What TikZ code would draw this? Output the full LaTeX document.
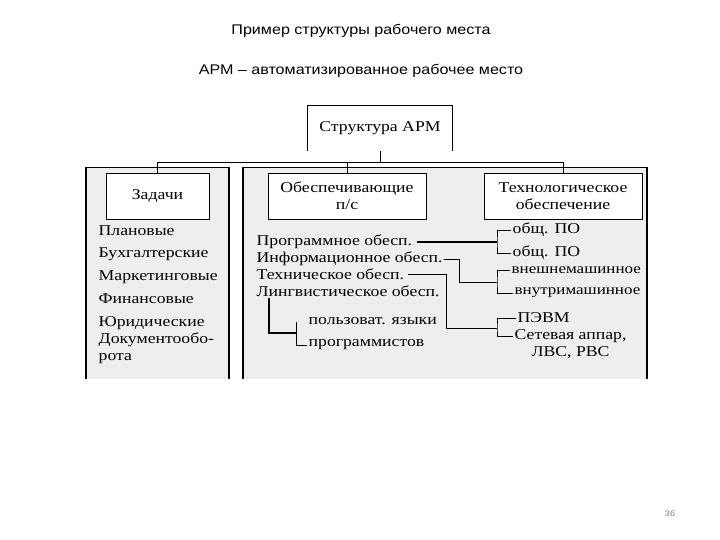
\documentclass[tikz,border=0pt]{standalone}
\usepackage{fontspec}
\setmainfont[FakeStretch=1.18]{Liberation Serif}
\newfontfamily\titlefont[FakeStretch=1.15]{Liberation Sans}
\usetikzlibrary{positioning}

\tikzset{
  box/.style={draw, fill=white, line width=0.9pt, align=center, font=\fontsize{15}{17}\selectfont},
  panel/.style={fill=gray!13},
  item/.style={anchor=west, inner xsep=1.5pt, inner ysep=0pt, font=\fontsize{15}{17}\selectfont},
  narrowitem/.style={item, font=\fontsize{14.4}{17}\selectfont},
  heading/.style={font=\titlefont\fontsize{14}{16}\selectfont},
  link/.style={line width=0.8pt},
  boldlink/.style={line width=1.8pt},
}

\begin{document}
\begin{tikzpicture}[x=1pt,y=-1pt]
    \useasboundingbox (0,0) rectangle (720,540);
    % titles
    \node[heading] (title) at (361,31) {Пример структуры рабочего места};
    \node[heading] (subtitle) at (361,71) {АРМ – автоматизированное рабочее место};

    % gray panels
    \fill[panel] (86,167) rectangle (229,379);
    \fill[panel] (243,167) rectangle (647,379);
    \draw[line width=0.5pt] (86,167) -- (229,167) (243,167) -- (647,167);
    \draw[line width=1.6pt] (86,167) -- (86,379) (229,167) -- (229,379);
    \draw[line width=1.6pt] (243,167) -- (243,379) (647,167) -- (647,379);

    % top box (open at the bottom)
    \node[font=\fontsize{15}{17}\selectfont, minimum width=145, minimum height=45] (apm) at (380,128) {Структура АРМ};
    \draw[line width=0.9pt] (apm.south west) -- (apm.north west) -- (apm.north east) -- (apm.south east);

    % second level
    \node[box, minimum width=103, minimum height=46] (tasks) at (157.5,196) {Задачи};
    \node[box, minimum width=158, minimum height=46] (supp) at (347,196) {Обеспечивающие\\п/с};
    \node[box, minimum width=158, minimum height=46] (tech) at (563,196) {Технологическое\\обеспечение};

    \draw[link] (apm.south) -- ++(0,12) coordinate (bus);
    \draw[link] (tasks.north) |- (bus) -| (tech.north);
    \draw[link] (supp.north) -- (supp.north |- bus);

    % tasks list
    \node[item] (plan) at (97,231) {Плановые};
    \node[item] (buh) at (97,254) {Бухгалтерские};
    \node[item] (market) at (97,277) {Маркетинговые};
    \node[item] (fin) at (97,299) {Финансовые};
    \node[item, align=left] (jur) at (97,340) {Юридические\\Документообо-\\рота};

    % support subsystems
    \node[item] (prog) at (255,242) {Программное обесп.};
    \node[item] (info) at (255,259) {Информационное обесп.};
    \node[item] (techs) at (255,274) {Техническое обесп.};
    \node[item] (ling) at (255,291) {Лингвистическое обесп.};
    \node[item] (user) at (307,321) {пользоват. языки};
    \node[item] (coder) at (307,345) {программистов};

    % technological support
    \node[item] (gen1) at (511,230) {общ. ПО};
    \node[item] (gen2) at (511,253) {общ. ПО};
    \node[narrowitem] (ext) at (510,270) {внешнемашинное};
    \node[narrowitem] (int) at (513,293) {внутримашинное};
    \node[item] (pc) at (516,318) {ПЭВМ};
    \node[item, align=center] (net) at (513,344) {Сетевая аппар,\\ЛВС, РВС};

    \coordinate (progbr) at (497,242);
    \coordinate (infobr) at (497,282);
    \coordinate (techbr) at (497,328);
    \coordinate (lingbr) at (296,333);

    % connectors
    \draw[boldlink] (prog.east) ++(3,0) -- (progbr);
    \draw[link] (gen1.west) -| (progbr) |- (gen2.west);
    \draw[link] (info.east) -- (459,259) |- (infobr);
    \draw[link] (techs.east) ++(2,0) -- (446,274) |- (techbr);
    \draw[link] (ext.west) -| (infobr) |- (int.west);
    \draw[link] (pc.west) -| (techbr) |- ([yshift=8pt]net.west);
    \draw[boldlink] (ling.south west) ++(14,1) |- (lingbr);
    \draw[link] (lingbr) ++(0,-11) |- (coder.west);

    % page number
    \node[font=\titlefont\fontsize{8}{10}\selectfont, text=gray] (page) at (670,514) {36};
\end{tikzpicture}
\end{document}
